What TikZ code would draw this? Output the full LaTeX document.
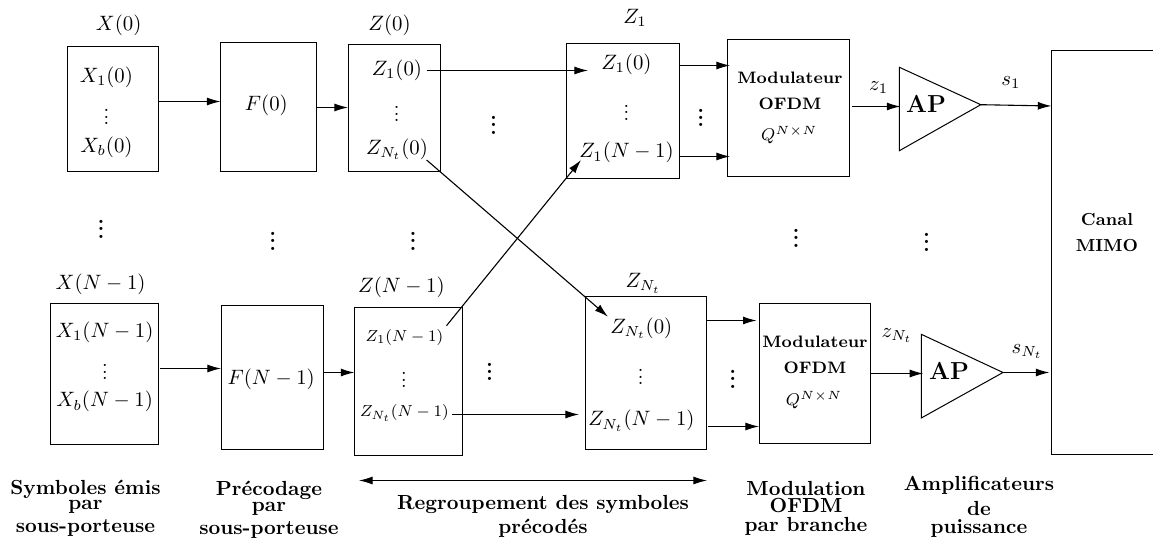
\RequirePackage{fix-cm}
\documentclass[tikz,border=0pt]{standalone}
\usetikzlibrary{arrows.meta,fit}
\newcommand{\thinvd}{\vbox{\baselineskip=3.3pt\lineskiplimit=-10pt\hbox{.}\hbox{.}\hbox{.}}}
\newcommand{\boldvd}{\vbox{\fontsize{11}{11}\bfseries\baselineskip=3.6pt\lineskiplimit=-10pt\hbox{.}\hbox{.}\hbox{.}}}
\newcommand{\fitbox}[5]{\node[blk,fit={(#2,#3)(#4,#5)}] (#1) {};}
\tikzset{
  x=0.5pt,y=-0.5pt,
  blk/.style={draw,line width=0.5pt,inner sep=0pt,outer sep=0pt},
  lab/.style={inner sep=0pt,outer sep=0pt,font=\fontsize{10.4}{12}\selectfont},
  labs/.style={inner sep=0pt,outer sep=0pt,font=\fontsize{8.5}{10}\selectfont},
  labz/.style={inner sep=0pt,outer sep=0pt,font=\fontsize{8}{10}\selectfont},
  bft/.style={inner sep=0pt,outer sep=0pt,font=\fontsize{8.3}{10}\selectfont\bfseries},
  bfc/.style={inner sep=0pt,outer sep=0pt,font=\fontsize{8.7}{10}\selectfont\bfseries},
  captxt/.style={inner sep=0pt,outer sep=0pt,yshift=-0.7pt,font=\fontsize{10.2}{12}\selectfont\bfseries},
  apt/.style={inner sep=0pt,outer sep=0pt,font=\fontsize{12.3}{14}\selectfont\bfseries},
  vd/.style={inner sep=0pt,outer sep=0pt},
  arr/.style={line width=0.55pt,-{Latex[length=6.8pt,width=4pt]}},
  dbl/.style={line width=0.55pt,{Latex[length=6.8pt,width=4pt]}-{Latex[length=6.8pt,width=4pt]}},
  tri/.style={draw,line width=0.5pt,line join=miter}
}
\begin{document}
\begin{tikzpicture}
\useasboundingbox (0,0) rectangle (1153,539);
% boxes
\fitbox{xa}{67}{46.3}{158}{172}
\fitbox{fa}{220.5}{43}{316}{172}
\fitbox{za}{348}{44.3}{440.6}{172}
\fitbox{zone}{566}{43.7}{679}{178.7}
\fitbox{moda}{727}{40}{849.6}{176.7}
\fitbox{canal}{1051.4}{50.3}{1160}{455}
\fitbox{xb}{50}{303.3}{158.7}{445}
\fitbox{fb}{221}{305.7}{323.3}{450}
\fitbox{zb}{354.4}{307.3}{462.5}{456}
\fitbox{znt}{585}{297}{706.4}{449.3}
\fitbox{modb}{759}{304}{870.7}{443.3}
% amplifiers
\draw[tri] (899.4,67.3) coordinate (apaT) -- (980.8,104.7) coordinate (apaTip) -- (899.4,150.7) -- cycle;
\draw[tri] (921.3,334.3) coordinate (apbT) -- (1003,372.5) coordinate (apbTip) -- (921.3,418) -- cycle;
% labels, top row
\node[lab] (txa) at (118.7,25.7) {$X(0)$};
\node[lab] (xaa) at (106.4,77.3) {$X_1(0)$};
\node[vd] (xad) at (106.5,117.3) {\thinvd};
\node[lab] (xab) at (106.5,147) {$X_b(0)$};
\node[lab] (tfa) at (266.4,105) {$F(0)$};
\node[lab] (tza) at (389.6,25.3) {$Z(0)$};
\node[lab] (zaa) at (397,70) {$Z_1(0)$};
\node[vd] (zad) at (396.6,114) {\thinvd};
\node[lab] (zab) at (397,149) {$Z_{N_t}(0)$};
\node[lab] (tzone) at (635,17.7) {$Z_1$};
\node[lab] (zonea) at (626.5,64.3) {$Z_1(0)$};
\node[vd] (zoned) at (626.5,112.7) {\thinvd};
\node[lab] (zoneb) at (626.5,152.7) {$Z_1(N-1)$};
\node[bft] (maa) at (790,78.3) {Modulateur};
\node[bft] (mab) at (790,104.3) {OFDM};
\node[labs] (mac) at (789.3,135) {$Q^{N\times N}$};
\node[lab] (tza1) at (878.6,87.3) {$z_1$};
\node[apt] (tapa) at (926,103.7) {AP};
\node[lab] (tsa) at (1011,82.7) {$s_1$};
\node[bfc] (ca) at (1107,220) {Canal};
\node[bfc] (cb) at (1107,246) {MIMO};
% labels, bottom row
\node[lab] (txb) at (100.6,284.3) {$X(N-1)$};
\node[lab] (xba) at (104.7,332.3) {$X_1(N-1)$};
\node[vd] (xbd) at (105,372.3) {\thinvd};
\node[lab] (xbb) at (104.7,401.7) {$X_b(N-1)$};
\node[lab] (tfb) at (271.2,379) {$F(N-1)$};
\node[lab] (tzb) at (401.4,287.7) {$Z(N-1)$};
\node[labz] (zba) at (404.4,337.3) {$Z_1(N-1)$};
\node[vd] (zbd) at (404,380) {\thinvd};
\node[labz] (zbb) at (404.4,412.7) {$Z_{N_t}(N-1)$};
\node[lab] (tznt) at (643.2,283.3) {$Z_{N_t}$};
\node[lab] (znta) at (641.4,328.3) {$Z_{N_t}(0)$};
\node[vd] (zntd) at (640.6,377.3) {\thinvd};
\node[lab] (zntb) at (641.4,420.7) {$Z_{N_t}(N-1)$};
\node[bft] (mba) at (815,342.3) {Modulateur};
\node[bft] (mbb) at (815,368.3) {OFDM};
\node[labs] (mbc) at (814,400) {$Q^{N\times N}$};
\node[lab] (tzb1) at (897,335.7) {$z_{N_t}$};
\node[apt] (tapb) at (949,370.7) {AP};
\node[lab] (tsb) at (1027,351.7) {$s_{N_t}$};
% big dots
\node[vd] (d1) at (101,229.3) {\boldvd};
\node[vd] (d2) at (272.7,241.3) {\boldvd};
\node[vd] (d3) at (413,241.3) {\boldvd};
\node[vd] (d4) at (493.5,125.3) {\boldvd};
\node[vd] (d5) at (700.9,117.7) {\boldvd};
\node[vd] (d6) at (796,238.3) {\boldvd};
\node[vd] (d7) at (926.5,242.3) {\boldvd};
\node[vd] (d8) at (489.5,371.7) {\boldvd};
\node[vd] (d9) at (732.8,379.3) {\boldvd};
% captions
\node[captxt] (c1a) at (85.5,487.7) {Symboles émis};
\node[captxt] (c1b) at (85.5,505.7) {par};
\node[captxt] (c1c) at (85.5,526.7) {sous-porteuse};
\node[captxt] (c2a) at (269,488.7) {Précodage};
\node[captxt] (c2b) at (269,507) {par};
\node[captxt] (c2c) at (269,528.7) {sous-porteuse};
\node[captxt] (c3a) at (543,503.5) {Regroupement des symboles};
\node[captxt] (c3b) at (543,527) {précodés};
\node[captxt] (c4a) at (806,486.7) {Modulation};
\node[captxt] (c4b) at (806,504) {OFDM};
\node[captxt] (c4c) at (806,524.7) {par branche};
\node[captxt] (c5a) at (979,483.7) {Amplificateurs};
\node[captxt] (c5b) at (979,507) {de};
\node[captxt] (c5c) at (979,526.7) {puissance};
% level coordinates for connectors
\coordinate (y1) at (0,101.5);
\coordinate (y2) at (0,107.5);
\coordinate (y3) at (0,70.5);
\coordinate (y4) at (0,65.5);
\coordinate (y5) at (0,156.5);
\coordinate (y6) at (0,106.5);
\coordinate (y7) at (0,368.5);
\coordinate (y8) at (0,372.5);
\coordinate (y9) at (0,414.5);
\coordinate (y10) at (0,320.5);
\coordinate (y11) at (0,426.5);
\coordinate (y12) at (0,373.5);
\coordinate (yc) at (0,106);
\coordinate (l1) at (588,0);
\coordinate (l2) at (579,0);
\coordinate (s3) at (426.6,0);
\coordinate (s9) at (451.7,0);
% horizontal connectors
\draw[arr] (xa.east |- y1) -- (fa.west |- y1);
\draw[arr] (fa.east |- y2) -- (za.west |- y2);
\draw[arr] (s3 |- y3) -- (l1 |- y3);
\draw[arr] (zone.east |- y4) -- ([xshift=1.5pt]moda.west |- y4);
\draw[arr] (zone.east |- y5) -- ([xshift=1.5pt]moda.west |- y5);
\draw[arr] ([xshift=1pt]moda.east |- y6) -- ([xshift=0.5pt]apaT |- y6);
\draw[arr] (apaTip) -- (canal.west |- yc);
\draw[arr] ([xshift=0.8pt]xb.east |- y7) -- (fb.west |- y7);
\draw[arr] (fb.east |- y8) -- (zb.west |- y8);
\draw[arr] (s9 |- y9) -- (l2 |- y9);
\draw[arr] (znt.east |- y10) -- ([xshift=-1.2pt]modb.west |- y10);
\draw[arr] ([xshift=0.6pt]znt.east |- y11) -- (modb.west |- y11);
\draw[arr] (modb.east |- y12) -- ([xshift=1pt]apbT |- y12);
\draw[arr] (apbTip) -- ([xshift=-1pt]canal.west |- apbTip);
% crossing connectors
\coordinate (cra) at (426.6,160);
\coordinate (crb) at (608,316.7);
\coordinate (crc) at (446.5,325.7);
\coordinate (crd) at (581,160);
\draw[arr] (cra) -- (crb);
\draw[arr] (crc) -- (crd);
% span arrow
\coordinate (spa) at (359,480.5);
\coordinate (spb) at (707,480.5);
\draw[dbl] (spa) -- (spb);
\end{tikzpicture}
\end{document}
